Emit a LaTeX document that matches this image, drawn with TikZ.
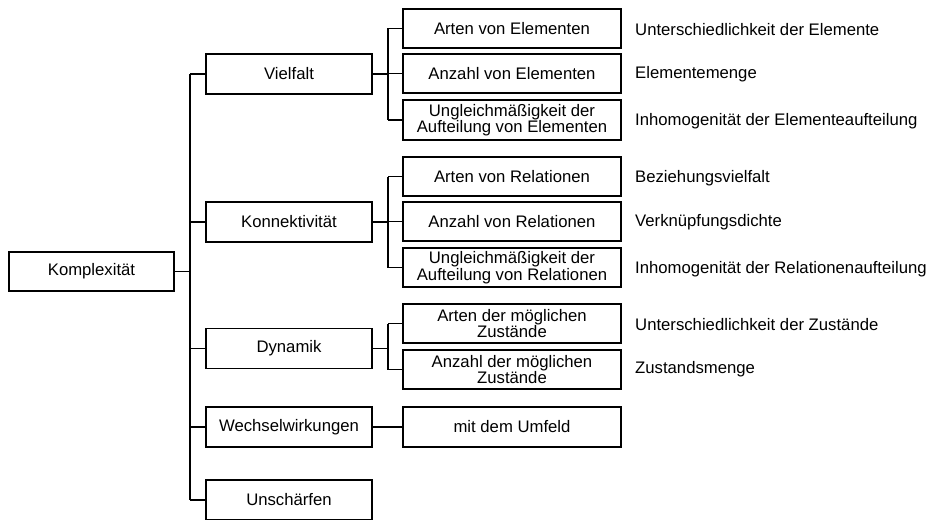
\documentclass[tikz,border=0pt]{standalone}
\usepackage{fontspec}
\setmainfont{Liberation Sans}
\begin{document}
\begin{tikzpicture}[x=1pt,y=-1pt,
  box/.style={draw, line width=1.7pt, inner sep=0pt, align=center,
    font=\fontsize{16.7}{14.4}\selectfont},
  root/.style={box, minimum width=165pt, minimum height=39pt},
  aspect/.style={box, minimum width=166pt, minimum height=40pt},
  factor/.style={box, minimum width=218pt, minimum height=39pt},
  term/.style={anchor=west, inner sep=0pt, font=\fontsize{16.7}{19}\selectfont},
  link/.style={line width=1.1pt},
  stub/.style={line width=1.7pt}]
\useasboundingbox (0,0) rectangle (928,519);

% root
\node[root] (k) at (91.5,271.5) {Komplexität};

% first level
\node[aspect] (v) at (289,74)    {Vielfalt};
\node[aspect] (c) at (289,222)   {Konnektivität};
\node[aspect] (d) at (289,348.5) {Dynamik};
\node[aspect] (w) at (289,427)   {Wechselwirkungen};
\node[aspect] (u) at (289,500)   {Unschärfen};

% second level
\node[factor] (v1) at (512,28.5)  {Arten von Elementen};
\node[factor] (v2) at (512,73.5)  {Anzahl von Elementen};
\node[factor, minimum height=40pt] (v3) at (512,120) {Ungleichmäßigkeit der\\Aufteilung von Elementen};
\node[factor] (c1) at (512,176.5) {Arten von Relationen};
\node[factor] (c2) at (512,221.5) {Anzahl von Relationen};
\node[factor] (c3) at (512,267.5) {Ungleichmäßigkeit der\\Aufteilung von Relationen};
\node[factor] (d1) at (512,323.5) {Arten der möglichen\\Zustände};
\node[factor] (d2) at (512,369.5) {Anzahl der möglichen\\Zustände};
\node[factor, minimum height=40pt] (w1) at (512,427) {mit dem Umfeld};

% descriptions
\node[term] (t1) at (635,30)  {Unterschiedlichkeit der Elemente};
\node[term] (t2) at (635,74)  {Elementemenge};
\node[term] (t3) at (635,121) {Inhomogenität der Elementeaufteilung};
\node[term] (t4) at (635,178) {Beziehungsvielfalt};
\node[term] (t5) at (635,222) {Verknüpfungsdichte};
\node[term] (t6) at (635,269) {Inhomogenität der Relationenaufteilung};
\node[term] (t7) at (635,325) {Unterschiedlichkeit der Zustände};
\node[term] (t8) at (635,369) {Zustandsmenge};

% main trunk
\coordinate (kj) at (190,271.5);
\draw[stub] (k.east) -- (kj);
\draw[link] (v.west -| kj) -- (u.west -| kj);
\foreach \n in {v,c,d,w,u} \draw[link] (\n.west -| kj) -- (\n.west);

% Vielfalt branch
\coordinate (vj) at (388,74);
\draw[stub] (v.east) -- (vj);
\draw[link] (v1.west -| vj) -- (v3.west -| vj);
\foreach \n in {v1,v2,v3} \draw[link] (\n.west -| vj) -- (\n.west);

% Konnektivität branch
\coordinate (cj) at (388,222);
\draw[stub] (c.east) -- (cj);
\draw[link] (c1.west -| cj) -- (c3.west -| cj);
\foreach \n in {c1,c2,c3} \draw[link] (\n.west -| cj) -- (\n.west);

% Dynamik branch
\coordinate (dj) at (388,348.5);
\draw[stub] (d.east) -- (dj);
\draw[link] (d1.west -| dj) -- (d2.west -| dj);
\foreach \n in {d1,d2} \draw[link] (\n.west -| dj) -- (\n.west);

% Wechselwirkungen
\draw[link] (w.east) -- (w1.west);
\end{tikzpicture}
\end{document}
